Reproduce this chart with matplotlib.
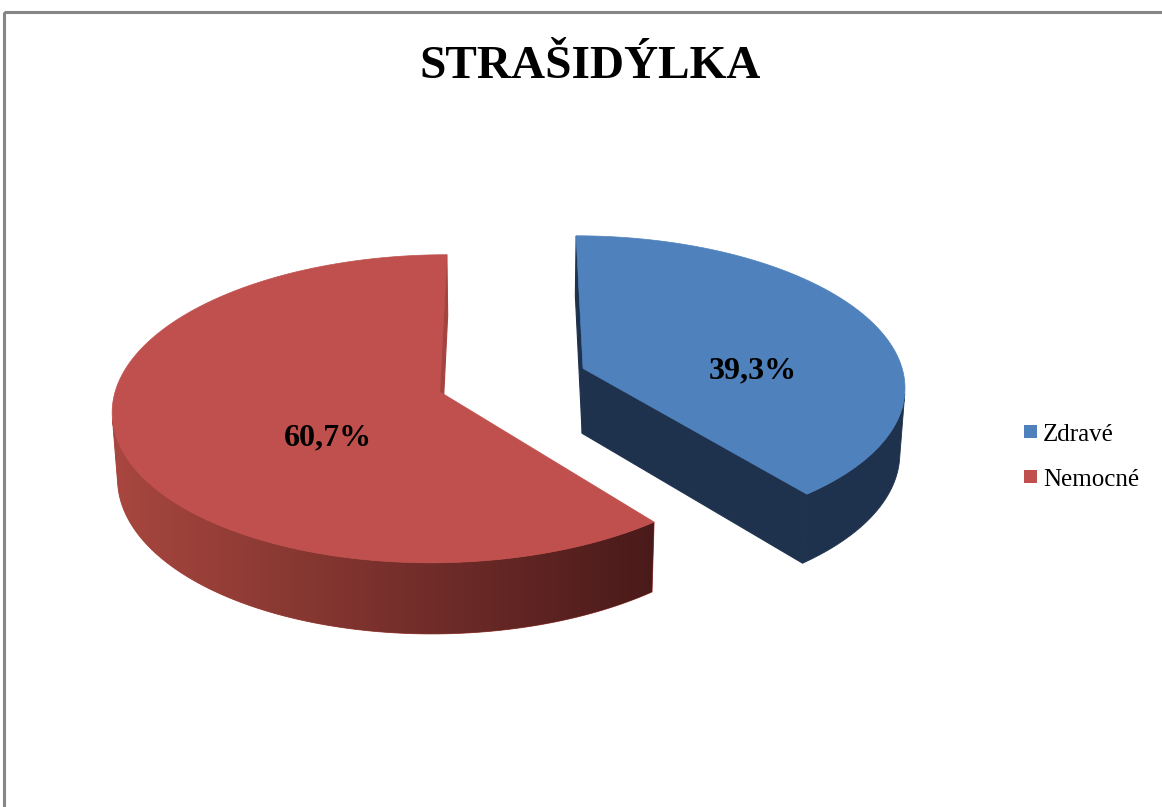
import matplotlib
matplotlib.use("Agg")
import matplotlib.pyplot as plt
import numpy as np
from matplotlib.colors import LinearSegmentedColormap
from matplotlib.patches import Polygon, Rectangle

title = "STRAŠIDÝLKA"
labels = ["Zdravé", "Nemocné"]
values = [39.3, 60.7]
value_texts = ["39,3%", "60,7%"]

top_colors = ["#4f81bd", "#c0504d"]
wall_colors = [("#1f324d", "#1f324d"), ("#a8473f", "#4a1a1a")]
face_colors = ["#1f324d", "#a3443f"]
label_pos = [(753, 378), (328, 445)]

# simple perspective camera for the 3-D pie (unit radius, pixel output)
X0, Y0 = 512, 380
ELEV = np.radians(27.7)
DIST = 8.08
FOCAL = 2600
THICK = 0.232
EXPLODE = 0.236
SERIF = ["Liberation Serif", "DejaVu Serif"]
CAM = np.array([0.0, -DIST * np.cos(ELEV), DIST * np.sin(ELEV)])


def project(x, y, z=0.0):
    c, s = np.cos(ELEV), np.sin(ELEV)
    depth = DIST + y * c - z * s
    sy = y * s + z * c
    return X0 + FOCAL * x / depth, Y0 - FOCAL * sy / depth


def facing(normal, p):
    return np.dot(normal, CAM - np.asarray(p)) > 0


def draw_slice(ax, a0, a1, top, wall, face, z):
    mid = np.radians((a0 + a1) / 2)
    cx, cy = EXPLODE * np.cos(mid), EXPLODE * np.sin(mid)
    angs = np.radians(np.linspace(a0, a1, 300))
    rim = [(cx + np.cos(t), cy + np.sin(t)) for t in angs]

    # outer wall, only the part turned to the camera
    seen = [facing(np.array([np.cos(t), np.sin(t), 0.0]), (cx + np.cos(t), cy + np.sin(t), 0.0))
            for t in angs]
    pts = [p for p, v in zip(rim, seen) if v]
    if len(pts) > 1:
        upper = [project(x, y) for x, y in pts]
        lower = [project(x, y, -THICK) for x, y in pts[::-1]]
        outline = np.array(upper + lower)
        shape = Polygon(outline, closed=True, facecolor=wall[0], edgecolor=wall[0], lw=0.6, zorder=z)
        ax.add_patch(shape)
        if wall[0] != wall[1]:
            cmap = LinearSegmentedColormap.from_list("wall", list(wall))
            xmin, ymin = outline.min(axis=0)
            xmax, ymax = outline.max(axis=0)
            img = ax.imshow(np.linspace(0, 1, 256)[None, :], cmap=cmap, aspect="auto",
                            extent=(xmin, xmax, ymax, ymin), interpolation="bilinear", zorder=z + 0.1)
            img.set_clip_path(shape)

    # flat cut faces along the two radii
    step = np.sign(a1 - a0) * 0.01
    for a, inward in ((np.radians(a0), step), (np.radians(a1), -step)):
        d = np.array([np.cos(a), np.sin(a), 0.0])
        n = np.array([-np.sin(a), np.cos(a), 0.0])
        q = np.array([np.cos(a + inward), np.sin(a + inward), 0.0])
        if np.dot(n, q) > 0:
            n = -n
        if not facing(n, (cx, cy, 0.0)):
            continue
        ex, ey = cx + d[0], cy + d[1]
        quad = [project(cx, cy), project(ex, ey), project(ex, ey, -THICK), project(cx, cy, -THICK)]
        ax.add_patch(Polygon(quad, closed=True, facecolor=face, edgecolor=face, lw=0.8, zorder=z + 0.2))

    # top face
    surface = [project(cx, cy)] + [project(x, y) for x, y in rim]
    ax.add_patch(Polygon(surface, closed=True, facecolor=top, edgecolor=top, lw=0.5, zorder=z + 0.3))


fig = plt.figure(figsize=(11.62, 8.07), dpi=100)
ax = fig.add_axes([0, 0, 1, 1])

# chart frame, cut off at the right and bottom
ax.add_patch(Rectangle((4, 12), 1300, 1000, fill=False, edgecolor="#868686", lw=2.2, zorder=0.5))

# slices start at 12 o'clock and run clockwise; back slice first
start = 90.0
for k, (value, top, wall, face) in enumerate(zip(values, top_colors, wall_colors, face_colors)):
    sweep = value / sum(values) * 360.0
    draw_slice(ax, start, start - sweep, top, wall, face, 1 + k)
    start -= sweep

ax.set_xlim(0, 1162)
ax.set_ylim(807, 0)
ax.axis("off")

for text, (x, y) in zip(value_texts, label_pos):
    ax.text(x, y, text, ha="center", va="baseline", fontsize=23, fontweight="bold",
            family=SERIF, color="black", zorder=5)

ax.text(590, 78, title, ha="center", va="baseline", fontsize=34, fontweight="bold",
        family=SERIF, color="black")

# legend
for i, (label, color) in enumerate(zip(labels, top_colors)):
    y = 441 + i * 45
    ax.add_patch(Rectangle((1024, y - 16), 13, 13, facecolor=color, edgecolor="none"))
    ax.text(1043, y, label, ha="left", va="baseline", fontsize=18, family=SERIF, color="black")

fig.savefig("out.png", dpi=100)
